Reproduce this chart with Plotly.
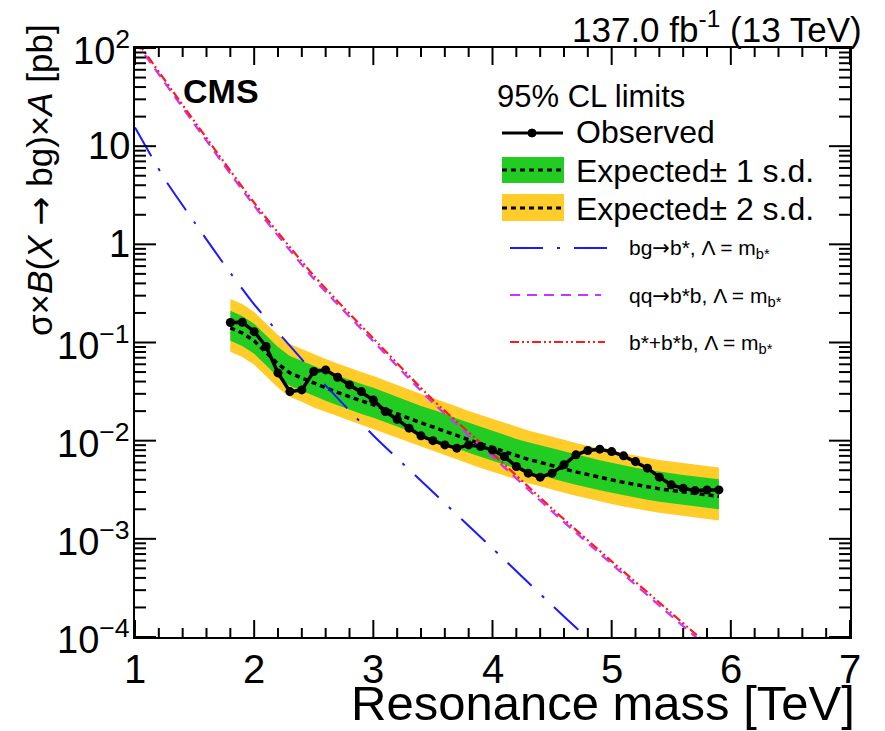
import math
import plotly.graph_objects as go

# ---------------- data ----------------
mass = [1.8, 1.9, 2.0, 2.1, 2.2, 2.3, 2.4, 2.5, 2.6, 2.7, 2.8, 2.9, 3.0, 3.1,
        3.2, 3.3, 3.4, 3.5, 3.6, 3.7, 3.8, 3.9, 4.0, 4.1, 4.2, 4.3, 4.4, 4.5,
        4.6, 4.7, 4.8, 4.9, 5.0, 5.1, 5.2, 5.3, 5.4, 5.5, 5.6, 5.7, 5.8, 5.9]

observed = [0.160, 0.161, 0.129, 0.091, 0.049, 0.0316, 0.0329, 0.0506, 0.0526,
            0.0443, 0.037, 0.0316, 0.026, 0.0198, 0.0165, 0.0134, 0.0112, 0.0100,
            0.00905, 0.00839, 0.00905, 0.0087, 0.00805, 0.00689, 0.00545, 0.00467,
            0.00425, 0.00467, 0.00568, 0.00717, 0.00793, 0.00819, 0.00774, 0.00700,
            0.00612, 0.00525, 0.00425, 0.00355, 0.00328, 0.0031, 0.00315, 0.00315]

expected = [0.141, 0.125, 0.104, 0.0802, 0.0605, 0.0490, 0.0436, 0.0383, 0.0345,
            0.0310, 0.0279, 0.0254, 0.0232, 0.0208, 0.0187, 0.0169, 0.0152, 0.0138,
            0.0126, 0.0113, 0.0102, 0.00927, 0.00845, 0.00769, 0.00700, 0.00645,
            0.00601, 0.00554, 0.00516, 0.00481, 0.00449, 0.00423, 0.00399, 0.00376,
            0.00355, 0.00339, 0.00323, 0.00312, 0.00301, 0.00290, 0.00281, 0.00271]

exp_p2 = [0.278, 0.246, 0.205, 0.158, 0.119, 0.0965, 0.0859, 0.0755, 0.0680, 0.0611,
          0.0550, 0.0500, 0.0457, 0.0410, 0.0368, 0.0333, 0.0299, 0.0272, 0.0248,
          0.0223, 0.0201, 0.0183, 0.0166, 0.0151, 0.0138, 0.0127, 0.0118, 0.0109,
          0.0102, 0.00948, 0.00885, 0.00833, 0.00786, 0.00741, 0.00699, 0.00668,
          0.00636, 0.00615, 0.00593, 0.00571, 0.00554, 0.00534]

exp_p1 = [0.210, 0.186, 0.155, 0.119, 0.0901, 0.0730, 0.0650, 0.0571, 0.0514, 0.0462,
          0.0416, 0.0378, 0.0346, 0.0310, 0.0279, 0.0252, 0.0226, 0.0206, 0.0188,
          0.0168, 0.0152, 0.0138, 0.0126, 0.0115, 0.0104, 0.00961, 0.00895, 0.00825,
          0.00769, 0.00717, 0.00669, 0.00630, 0.00595, 0.00560, 0.00529, 0.00505,
          0.00481, 0.00465, 0.00448, 0.00432, 0.00419, 0.00404]

exp_m1 = [0.104, 0.0923, 0.0768, 0.0592, 0.0446, 0.0362, 0.0322, 0.0283, 0.0255, 0.0229,
          0.0206, 0.0187, 0.0171, 0.0154, 0.0138, 0.0125, 0.0112, 0.0102, 0.00930,
          0.00834, 0.00753, 0.00684, 0.00624, 0.00568, 0.00517, 0.00476, 0.00444,
          0.00409, 0.00381, 0.00355, 0.00331, 0.00312, 0.00294, 0.00277, 0.00262,
          0.00250, 0.00238, 0.00230, 0.00222, 0.00214, 0.00207, 0.00200]

exp_m2 = [0.0804, 0.0713, 0.0593, 0.0457, 0.0345, 0.0279, 0.0249, 0.0218, 0.0197, 0.0177,
          0.0159, 0.0145, 0.0132, 0.0119, 0.0107, 0.00963, 0.00866, 0.00787, 0.00718,
          0.00644, 0.00581, 0.00528, 0.00482, 0.00438, 0.00399, 0.00368, 0.00343,
          0.00316, 0.00294, 0.00274, 0.00256, 0.00241, 0.00227, 0.00214, 0.00202,
          0.00193, 0.00184, 0.00178, 0.00172, 0.00165, 0.00160, 0.00154]

# theory curves
bg_mass = [1.0, 1.25, 1.5, 1.75, 2.0, 2.5, 3.0, 3.5, 4.0, 4.5, 4.75, 5.0]
bg_xsec = [15.5, 4.6, 1.67, 0.62, 0.244, 0.0493, 0.0113, 0.00300, 8.0e-4, 2.1e-4, 1.1e-4, 6.0e-5]

qq_mass = [1.0, 1.5, 2.0, 2.5, 3.0, 3.5, 4.0, 4.5, 5.0, 5.5, 6.0]
qq_xsec = [118, 16.7, 2.47, 0.445, 0.1026, 0.0243, 6.9e-3, 1.90e-3, 5.53e-4, 1.64e-4, 4.9e-5]

sum_mass = [1.0, 1.5, 2.0, 2.5, 3.0, 3.5, 4.0, 4.5, 5.0, 5.5, 6.0]
sum_xsec = [125, 17.8, 2.65, 0.48, 0.110, 0.026, 7.4e-3, 2.03e-3, 5.9e-4, 1.76e-4, 5.2e-5]

x_tickvals = [1, 2, 3, 4, 5, 6, 7]
x_ticktext = ["1", "2", "3", "4", "5", "6", "7"]
y_tickvals = [1e-4, 1e-3, 1e-2, 1e-1, 1, 10, 100]
y_ticktext = ["10<sup>−4</sup>", "10<sup>−3</sup>", "10<sup>−2</sup>", "10<sup>−1</sup>",
              "1", "10", "10<sup>2</sup>"]

# ---------------- style ----------------
FONT = "Liberation Sans, Arial, Helvetica, sans-serif"
YELLOW = "#ffcc2a"
GREEN = "#22cc22"
BLUE = "#1a1aff"
MAGENTA = "#cc33ff"
RED = "#ff1a1a"
DASH_BLUE = "33px,14px,3px,14px"
DASH_MAG = "10px,7px"
DASH_RED = "9px,3px,2px,3px,2px,3px"
ARROW = '<span style="font-family:DejaVu Sans">→</span>'

PLOT_W, PLOT_H = 715.0, 589.0

fig = go.Figure()

# 2 sigma band
fig.add_trace(go.Scatter(x=mass, y=exp_p2, mode="lines", line=dict(width=0, color=YELLOW),
                         showlegend=False, hoverinfo="skip"))
fig.add_trace(go.Scatter(x=mass, y=exp_m2, mode="lines", line=dict(width=0, color=YELLOW),
                         fill="tonexty", fillcolor=YELLOW, showlegend=False))
# 1 sigma band
fig.add_trace(go.Scatter(x=mass, y=exp_p1, mode="lines", line=dict(width=0, color=GREEN),
                         showlegend=False, hoverinfo="skip"))
fig.add_trace(go.Scatter(x=mass, y=exp_m1, mode="lines", line=dict(width=0, color=GREEN),
                         fill="tonexty", fillcolor=GREEN, showlegend=False))
# expected
fig.add_trace(go.Scatter(x=mass, y=expected, mode="lines",
                         line=dict(color="black", width=3.5, dash="5px,4px"), showlegend=False))
# theory
fig.add_trace(go.Scatter(x=bg_mass, y=bg_xsec, mode="lines",
                         line=dict(color=BLUE, width=2, dash=DASH_BLUE, shape="spline", smoothing=0.5),
                         showlegend=False))
fig.add_trace(go.Scatter(x=qq_mass, y=qq_xsec, mode="lines",
                         line=dict(color=MAGENTA, width=2.2, dash=DASH_MAG, shape="spline", smoothing=0.6),
                         showlegend=False))
fig.add_trace(go.Scatter(x=sum_mass, y=sum_xsec, mode="lines",
                         line=dict(color=RED, width=2.2, dash=DASH_RED, shape="spline", smoothing=0.6),
                         showlegend=False))
# observed
fig.add_trace(go.Scatter(x=mass, y=observed, mode="lines+markers",
                         line=dict(color="black", width=3.5),
                         marker=dict(color="black", size=9), showlegend=False))

fig.update_xaxes(range=[1, 7], showticklabels=False, ticks="",
                 mirror=True, showline=True, linecolor="black", linewidth=2,
                 showgrid=False, zeroline=False)
fig.update_yaxes(type="log", range=[-4, 2], showticklabels=False, ticks="",
                 mirror=True, showline=True, linecolor="black", linewidth=2,
                 showgrid=False, zeroline=False)

# ---------------- axis ticks (ROOT style, inside, on all four sides) ----------------
shapes = []
XMAJ, XMIN = 17.0 / PLOT_H, 9.0 / PLOT_H
YMAJ, YMIN = 21.0 / PLOT_W, 11.0 / PLOT_W
tick_line = dict(color="black", width=2)
for i in range(31):
    xv = 1 + 0.2 * i
    ln = XMAJ if i % 5 == 0 else XMIN
    for base, sign in ((0.0, 1), (1.0, -1)):
        shapes.append(dict(type="line", xref="x", yref="paper", x0=xv, x1=xv,
                           y0=base, y1=base + sign * ln, line=tick_line, layer="above"))
for e in range(-4, 3):
    for m in range(1, 10):
        if e == 2 and m > 1:
            break
        yv = m * 10.0 ** e
        ln = YMAJ if m == 1 else YMIN
        for base, sign in ((0.0, 1), (1.0, -1)):
            shapes.append(dict(type="line", xref="paper", yref="y", x0=base, x1=base + sign * ln,
                               y0=yv, y1=yv, line=tick_line, layer="above"))

# ---------------- legend (drawn by hand) ----------------
def px(x):
    return (x - 135) / PLOT_W

def py(y):
    return (637 - y) / PLOT_H

# 2 s.d. box
shapes.append(dict(type="rect", xref="paper", yref="paper", x0=px(502), x1=px(564), y0=py(221), y1=py(194),
                   fillcolor=YELLOW, line=dict(width=0)))
shapes.append(dict(type="line", xref="paper", yref="paper", x0=px(502), x1=px(564), y0=py(208), y1=py(208),
                   line=dict(color="black", width=3, dash="5px,4px")))
# 1 s.d. box
shapes.append(dict(type="rect", xref="paper", yref="paper", x0=px(502), x1=px(564), y0=py(183), y1=py(157),
                   fillcolor=GREEN, line=dict(width=0)))
shapes.append(dict(type="line", xref="paper", yref="paper", x0=px(502), x1=px(564), y0=py(170), y1=py(170),
                   line=dict(color="black", width=3, dash="5px,4px")))
# observed
shapes.append(dict(type="line", xref="paper", yref="paper", x0=px(502), x1=px(563), y0=py(133), y1=py(133),
                   line=dict(color="black", width=3)))
shapes.append(dict(type="circle", xref="paper", yref="paper", x0=px(528), x1=px(536), y0=py(137), y1=py(129),
                   fillcolor="black", line=dict(color="black", width=1)))
# theory entries
shapes.append(dict(type="line", xref="paper", yref="paper", x0=px(510), x1=px(608), y0=py(248), y1=py(248),
                   line=dict(color=BLUE, width=2, dash=DASH_BLUE)))
shapes.append(dict(type="line", xref="paper", yref="paper", x0=px(510), x1=px(601), y0=py(295), y1=py(295),
                   line=dict(color=MAGENTA, width=2, dash=DASH_MAG)))
shapes.append(dict(type="line", xref="paper", yref="paper", x0=px(510), x1=px(605), y0=py(342), y1=py(342),
                   line=dict(color=RED, width=2, dash=DASH_RED)))

def ann(text, x, y, size, xanchor="left", yanchor="middle", **kw):
    return dict(text=text, xref="paper", yref="paper", x=x, y=y, xanchor=xanchor, yanchor=yanchor,
                showarrow=False, font=dict(family=FONT, size=size, color="black"), **kw)

annotations = [
    ann("95% CL limits", px(495), py(96), 31),
    ann("Observed", px(574), py(132), 32),
    ann("Expected± 1 s.d.", px(574), py(171), 32),
    ann("Expected± 2 s.d.", px(574), py(209), 32),
    ann("bg" + ARROW + "b*, Λ = m<sub>b*</sub>", px(627), py(249), 21),
    ann("qq" + ARROW + "b*b, Λ = m<sub>b*</sub>", px(627), py(297), 21),
    ann("b*+b*b, Λ = m<sub>b*</sub>", px(627), py(344), 21),
    ann("<b>CMS</b>", px(181), py(91), 34),
    ann("137.0 fb<sup>-1</sup> (13 TeV)", px(864), py(27), 35, xanchor="right"),
    ann("Resonance mass [TeV]", px(857), py(703), 49, xanchor="right"),
    ann("σ×<i>B</i>(<i>X</i> " + ARROW + " bg)×<i>A</i> [pb]", px(40), py(180), 35, xanchor="center",
        textangle=-90),
]

# tick labels placed through the axes' own scales
for xv, xt in zip(x_tickvals, x_ticktext):
    annotations.append(dict(text=xt, xref="x", yref="paper", x=xv, y=py(645), xanchor="center",
                            yanchor="top", showarrow=False,
                            font=dict(family=FONT, size=40, color="black")))
for yv, yt in zip(y_tickvals, y_ticktext):
    annotations.append(dict(text=yt, xref="paper", yref="y", x=px(132), y=math.log10(yv),
                            xanchor="right", yanchor="middle", align="right", showarrow=False,
                            font=dict(family=FONT, size=38, color="black")))

fig.update_layout(
    width=885, height=731,
    margin=dict(l=135, r=35, t=48, b=94),
    paper_bgcolor="white", plot_bgcolor="white",
    shapes=shapes, annotations=annotations,
    showlegend=False,
)

fig.write_html("out.html")
